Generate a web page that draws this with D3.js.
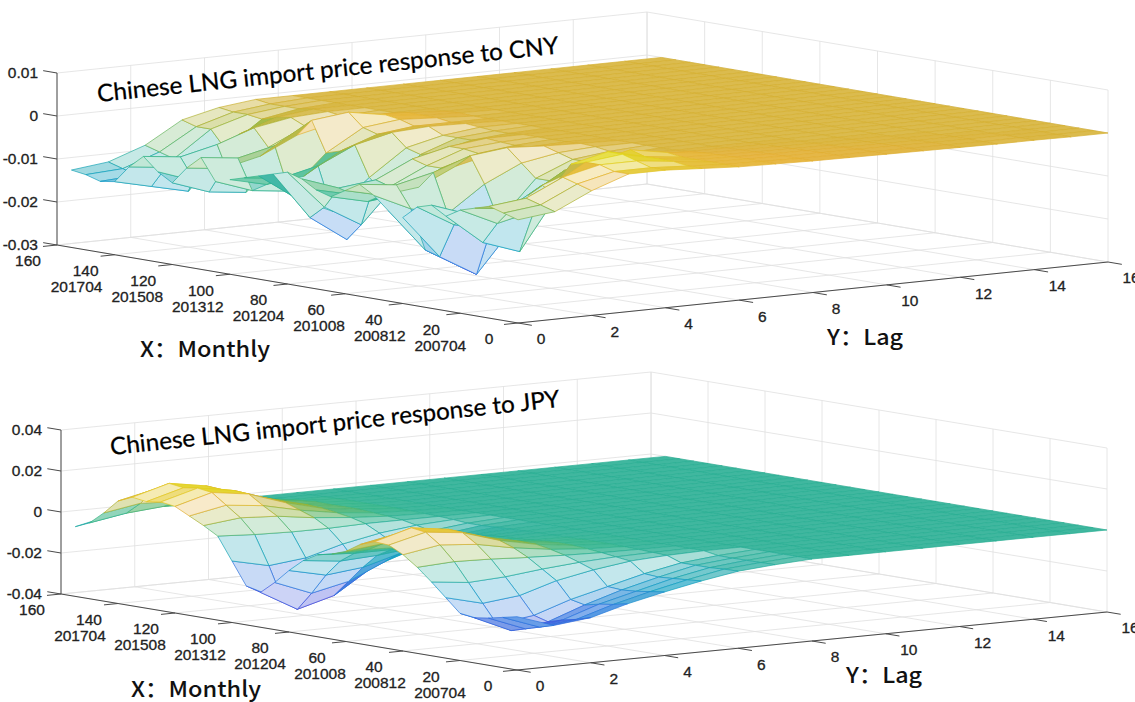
<!DOCTYPE html>
<html>
<head>
<meta charset="utf-8">
<script src="https://cdn.jsdelivr.net/npm/d3@7"></script>
<style>
  body { margin: 0; background: #fff; }
  text { font-family: 'Liberation Sans', Arial, sans-serif; }
</style>
</head>
<body>
<svg id="chart" width="1135" height="702"></svg>
<script>
// month index of each mesh column, and lags of each mesh row
var months = [0, 5, 10, 15, 20, 25, 30, 35, 40, 45, 50, 55, 60, 65, 70, 75,
  80, 85, 90, 95, 100, 105, 110, 115, 120, 125, 130, 135, 140, 145, 150, 155]
var lags = [0, 1, 2, 3, 4, 5, 6, 7, 8, 9, 10, 11, 12, 13, 14, 15, 16]

var xTicks = [0, 20, 40, 60, 80, 100, 120, 140, 160]
var dateTicks = [20, 40, 60, 80, 100, 120, 140]
var dateLabels = ['200704', '200812', '201008', '201204', '201312', '201508', '201704']
var yTicks = [0, 2, 4, 6, 8, 10, 12, 14, 16]
var cnyZTicks = [-0.03, -0.02, -0.01, 0, 0.01]
var cnyZLabels = ['-0.03', '-0.02', '-0.01', '0', '0.01']
var jpyZTicks = [-0.04, -0.02, 0, 0.02, 0.04]
var jpyZLabels = ['-0.04', '-0.02', '0', '0.02', '0.04']

// responses in units of 0.001, one row per month above, one value per lag
var cnyResp = [
  [-6, -5, -1, 2, 2, 1.5, 1, 0.8, 0.6, 0.5, 0.4, 0.3, 0.2, 0.1, 0.1, 0, 0],
  [-5, -4, 0, 2, 2, 1.5, 1, 0.8, 0.6, 0.5, 0.4, 0.3, 0.2, 0.1, 0.1, 0, 0],
  [-4, -3, 1, 3, 3, 2, 1, 0.8, 0.6, 0.5, 0.4, 0.3, 0.2, 0.1, 0.1, 0, 0],
  [-5, -6, -2, 3, 4, 2, 1, 0.7, 0.5, 0.4, 0.3, 0.2, 0.1, 0.1, 0, 0, 0],
  [-6, -10, -8, 2, 4, 2, 1, 0.6, 0.4, 0.3, 0.2, 0.1, 0.1, 0, 0, 0, 0],
  [-8, -15, -18, -6, 1, 3, 1.5, 0.5, 0.3, 0.2, 0.1, 0.1, 0, 0, 0, 0, 0],
  [-6, -9, -9, -4, -1, 0.5, 0.5, 0.3, 0.2, 0.1, 0, 0, 0, 0, 0, 0, 0],
  [-7, -12, -14, -7, -2, -0.5, 0, 0, 0, 0, 0, 0, 0, 0, 0, 0, 0],
  [-10, -20, -25, -15, -5, -1.5, -0.5, 0, 0, 0, 0, 0, 0, 0, 0, 0, 0],
  [-9, -19, -24, -14, -5, -1.5, -0.5, 0, 0, 0, 0, 0, 0, 0, 0, 0, 0],
  [-6, -10, -12, -6, -2, -0.5, 0, 0, 0, 0, 0, 0, 0, 0, 0, 0, 0],
  [-4, -5, -3, 0, 1, 0.5, 0.2, 0, 0, 0, 0, 0, 0, 0, 0, 0, 0],
  [-6, -8, -7, -3, -1, -0.3, 0, 0, 0, 0, 0, 0, 0, 0, 0, 0, 0],
  [-8, -10, -9, -4, -1.5, -0.5, 0, 0, 0, 0, 0, 0, 0, 0, 0, 0, 0],
  [-7, -9, -8, -4, -1, -0.3, 0, 0, 0, 0, 0, 0, 0, 0, 0, 0, 0],
  [-5, -8, -7, -3, -1, 0, 0, 0, 0, 0, 0, 0, 0, 0, 0, 0, 0],
  [-4, -13, -18, -9, -3, -1, -0.3, 0, 0, 0, 0, 0, 0, 0, 0, 0, 0],
  [-5, -16, -22, -12, -4, -1, -0.3, 0, 0, 0, 0, 0, 0, 0, 0, 0, 0],
  [-6, -12, -16, -9, -3, -1, 0, 0, 0, 0, 0, 0, 0, 0, 0, 0, 0],
  [-7, -8, -6, -2, 0, 0.5, 0.3, 0, 0, 0, 0, 0, 0, 0, 0, 0, 0],
  [-8, -10, -9, -4, -1, 0, 0, 0, 0, 0, 0, 0, 0, 0, 0, 0, 0],
  [-9, -12, -13, -5, 0, 1, 0.5, 0, 0, 0, 0, 0, 0, 0, 0, 0, 0],
  [-4, -5, -3, 2, 3, 1.5, 0.5, 0.2, 0, 0, 0, 0, 0, 0, 0, 0, 0],
  [-7, -8, -6, -2, 0, 1, 0.5, 0, 0, 0, 0, 0, 0, 0, 0, 0, 0],
  [-11, -14, -15, -7, -2, -0.5, 0, 0, 0, 0, 0, 0, 0, 0, 0, 0, 0],
  [-9, -12, -13, -6, -2, -0.5, 0, 0, 0, 0, 0, 0, 0, 0, 0, 0, 0],
  [-6, -7, -5, -2, -0.5, 0, 0, 0, 0, 0, 0, 0, 0, 0, 0, 0, 0],
  [-9, -10, -9, -4, -1, 0, 0, 0, 0, 0, 0, 0, 0, 0, 0, 0, 0],
  [-13, -15, -17, -8, -2, -0.5, 0, 0, 0, 0, 0, 0, 0, 0, 0, 0, 0],
  [-13.5, -13, -10, -4, -1.5, -0.5, 0, 0, 0, 0, 0, 0, 0, 0, 0, 0, 0],
  [-12.5, -12, -9, -4, -1.5, -0.5, 0, 0, 0, 0, 0, 0, 0, 0, 0, 0, 0],
  [-12, -11, -8, -3, -1, 0, 0, 0, 0, 0, 0, 0, 0, 0, 0, 0, 0]
]

var jpyResp = [
  [-14, -20, -18, -13, -9, -5.4, -2.4, -1, 0, 0, 0, 0, 0, 0, 0, 0, 0],
  [-15.5, -22, -20, -14.5, -10, -6, -2.6, -1.1, 0, 0, 0, 0, 0, 0, 0, 0, 0],
  [-17, -24, -21.5, -15.5, -11, -6.5, -3, -1.2, 0, 0, 0, 0, 0, 0, 0, 0, 0],
  [-18, -26, -23.5, -17, -11.5, -7, -3, -1.3, 0, 0, 0, 0, 0, 0, 0, 0, 0],
  [-17, -24, -21.5, -15.5, -11, -6.5, -3, -1.2, 0, 0, 0, 0, 0, 0, 0, 0, 0],
  [-10.5, -15, -13, -7.5, -4, -1.5, -0.5, 0, 0, 0, 0, 0, 0, 0, 0, 0, 0],
  [-4, -6, -5, -3, -1.5, -0.6, -0.2, 0, 0, 0, 0, 0, 0, 0, 0, 0, 0],
  [2, 3, 2.5, 1.5, 0.8, 0.3, 0.1, 0, 0, 0, 0, 0, 0, 0, 0, 0, 0],
  [7, 10, 8.5, 5, 2.5, 1, 0.3, 0, 0, 0, 0, 0, 0, 0, 0, 0, 0],
  [10.5, 15, 13, 7.5, 3.8, 1.5, 0.5, 0, 0, 0, 0, 0, 0, 0, 0, 0, 0],
  [11, 16, 13.5, 8, 4, 1.6, 0.5, 0, 0, 0, 0, 0, 0, 0, 0, 0, 0],
  [8.5, 12, 10, 6, 3, 1.2, 0.4, 0, 0, 0, 0, 0, 0, 0, 0, 0, 0],
  [4, 6, 5, 3, 1.5, 0.6, 0.2, 0, 0, 0, 0, 0, 0, 0, 0, 0, 0],
  [1.5, 2, 1.5, 1, 0.5, 0.2, 0.1, 0, 0, 0, 0, 0, 0, 0, 0, 0, 0],
  [0, -1, -1, -0.5, 0, 0, 0, 0, 0, 0, 0, 0, 0, 0, 0, 0, 0],
  [-4, -6, -5, -3, -1.5, -0.6, -0.2, 0, 0, 0, 0, 0, 0, 0, 0, 0, 0],
  [-10, -14, -12, -7, -3.5, -1.4, -0.4, 0, 0, 0, 0, 0, 0, 0, 0, 0, 0],
  [-17, -24, -20, -12, -6, -2.4, -0.7, 0, 0, 0, 0, 0, 0, 0, 0, 0, 0],
  [-23, -33, -28, -16.5, -8, -3.3, -1, 0, 0, 0, 0, 0, 0, 0, 0, 0, 0],
  [-21, -30, -25.5, -15, -7.5, -3, -1, 0, 0, 0, 0, 0, 0, 0, 0, 0, 0],
  [-10, -14, -12, -7, -3.5, -1.4, -0.4, 0, 0, 0, 0, 0, 0, 0, 0, 0, 0],
  [1, 0, -0.5, -0.5, 0, 0, 0, 0, 0, 0, 0, 0, 0, 0, 0, 0, 0],
  [5, 7, 6, 3.5, 1.8, 0.7, 0.2, 0, 0, 0, 0, 0, 0, 0, 0, 0, 0],
  [8.5, 12, 10, 6, 3, 1.2, 0.4, 0, 0, 0, 0, 0, 0, 0, 0, 0, 0],
  [12, 17, 14.5, 8.5, 4, 1.7, 0.5, 0, 0, 0, 0, 0, 0, 0, 0, 0, 0],
  [13, 18, 15, 9, 4.5, 1.8, 0.5, 0, 0, 0, 0, 0, 0, 0, 0, 0, 0],
  [12, 17, 14.5, 8.5, 4, 1.7, 0.5, 0, 0, 0, 0, 0, 0, 0, 0, 0, 0],
  [13, 18, 15, 9, 4.5, 1.8, 0.5, 0, 0, 0, 0, 0, 0, 0, 0, 0, 0],
  [10, 14, 12, 7, 3.5, 1.4, 0.4, 0, 0, 0, 0, 0, 0, 0, 0, 0, 0],
  [3, 6, 5, 3, 1.5, 0.6, 0.2, 0, 0, 0, 0, 0, 0, 0, 0, 0, 0],
  [-3, 0, 1.5, 1, 0.5, 0, 0, 0, 0, 0, 0, 0, 0, 0, 0, 0, 0],
  [-6, -2, 1, 1, 0.5, 0, 0, 0, 0, 0, 0, 0, 0, 0, 0, 0, 0]
]

// parula colormap
var parulaStops = ['#3e26a8', '#4852f4', '#2d87f7', '#12b1d6', '#37c897', '#abc739', '#fec338', '#f9fb15']
var parula = d3.scaleLinear()
  .domain(d3.range(8).map(function(i) { return i / 7 }))
  .range(parulaStops)
  .interpolate(d3.interpolateRgb)
  .clamp(true)

var svg = d3.select('#chart')
svg.append('rect').attr('width', 1135).attr('height', 702).attr('fill', '#fff')

function drawPanel(p) {
  var g = svg.append('g')
  var xs = d3.scaleLinear().domain([0, 160]).range([0, 1])
  var ys = d3.scaleLinear().domain([0, 16]).range([0, 1])
  var zs = d3.scaleLinear().domain([p.zMin, p.zMax]).range([0, 1])
  var cs = d3.scaleLinear().domain(p.colorDomain).range(p.colorRange).clamp(true)

  function proj(x, y, z) {
    var u = xs(x), v = ys(y), w = zs(z)
    return [
      p.origin[0] + u * p.xVec[0] + v * p.yVec[0],
      p.origin[1] + u * p.xVec[1] + v * p.yVec[1] - w * p.zLen
    ]
  }
  function seg(a, b, stroke, width) {
    g.append('line')
      .attr('x1', a[0]).attr('y1', a[1])
      .attr('x2', b[0]).attr('y2', b[1])
      .attr('stroke', stroke)
      .attr('stroke-width', width)
  }

  // grid on floor and the two back walls
  var grid = '#e0e0e0'
  xTicks.forEach(function(t) {
    seg(proj(t, 0, p.zMin), proj(t, 16, p.zMin), grid, 0.8)
    seg(proj(t, 16, p.zMin), proj(t, 16, p.zMax), grid, 0.8)
  })
  yTicks.forEach(function(t) {
    seg(proj(0, t, p.zMin), proj(160, t, p.zMin), grid, 0.8)
    seg(proj(160, t, p.zMin), proj(160, t, p.zMax), grid, 0.8)
  })
  p.zTicks.forEach(function(t) {
    seg(proj(160, 0, t), proj(160, 16, t), grid, 0.8)
    seg(proj(0, 16, t), proj(160, 16, t), grid, 0.8)
  })

  // axis lines and ticks
  var ax = '#4a4a4a'
  seg(proj(0, 0, p.zMin), proj(160, 0, p.zMin), ax, 1)
  seg(proj(0, 0, p.zMin), proj(0, 16, p.zMin), ax, 1)
  seg(proj(160, 0, p.zMin), proj(160, 0, p.zMax), ax, 1)
  xTicks.forEach(function(t) { seg(proj(t, 0, p.zMin), proj(t, -0.38, p.zMin), ax, 1) })
  yTicks.forEach(function(t) { seg(proj(0, t, p.zMin), proj(-4.8, t, p.zMin), ax, 1) })
  p.zTicks.forEach(function(t) { seg(proj(160, 0, t), proj(164.8, 0, t), ax, 1) })

  // mesh cells, painted back to front
  var d = [-p.yVec[0] * p.zLen, p.xVec[0] * p.zLen, p.xVec[0] * p.yVec[1] - p.yVec[0] * p.xVec[1]]
  var cells = []
  for (var i = 0; i < months.length - 1; i++) {
    for (var j = 0; j < lags.length - 1; j++) {
      var corners = [[i, j], [i + 1, j], [i + 1, j + 1], [i, j + 1]].map(function(c) {
        return { x: months[c[0]], y: lags[c[1]], z: p.resp[c[0]][c[1]] / 1000 }
      })
      var cx = d3.mean(corners, function(c) { return xs(c.x) })
      var cy = d3.mean(corners, function(c) { return ys(c.y) })
      var cz = d3.mean(corners, function(c) { return zs(c.z) })
      var pts = corners.map(function(c) { return proj(c.x, c.y, c.z) })
      var area = Math.abs(d3.polygonArea(pts))
      var col = d3.rgb(parula(cs(d3.mean(corners, function(c) { return c.z })))).darker(0.3)
      var tint = Math.max(0.26, Math.min(0.9, 125 / Math.max(area, 1)))
      cells.push({
        pts: pts,
        depth: cx * d[0] + cy * d[1] + cz * d[2],
        stroke: col + '',
        fill: d3.interpolateRgb('#ffffff', col)(tint)
      })
    }
  }
  cells.sort(function(a, b) { return a.depth - b.depth })
  g.append('g').selectAll('path')
    .data(cells)
    .enter()
    .append('path')
    .attr('d', function(c) { return 'M' + c.pts.join('L') + 'Z' })
    .attr('fill', function(c) { return c.fill })
    .attr('stroke', function(c) { return c.stroke })
    .attr('stroke-width', 0.7)
    .attr('stroke-linejoin', 'round')

  // tick labels
  var lab = g.append('g')
    .attr('fill', '#222').attr('stroke', '#222').attr('stroke-width', 0.3)
    .style('font-size', '15.5px')
  xTicks.forEach(function(t) {
    var q = proj(t, 0, p.zMin)
    lab.append('text').attr('x', q[0] - 29).attr('y', q[1] + 16).attr('dy', '0.35em')
      .attr('text-anchor', 'middle').text(t)
  })
  dateTicks.forEach(function(t, k) {
    var q = proj(t, 0, p.zMin)
    lab.append('text').attr('x', q[0] - 20 - (t - 20) * 0.15).attr('y', q[1] + 32).attr('dy', '0.35em')
      .attr('text-anchor', 'middle').text(dateLabels[k])
  })
  yTicks.forEach(function(t) {
    var q = proj(0, t, p.zMin)
    lab.append('text').attr('x', q[0] + 23).attr('y', q[1] + 16).attr('dy', '0.35em')
      .attr('text-anchor', 'middle').text(t)
  })
  p.zTicks.forEach(function(t, k) {
    var q = proj(160, 0, t)
    lab.append('text').attr('x', q[0] - 19).attr('y', q[1]).attr('dy', '0.35em')
      .attr('text-anchor', 'end').text(p.zLabels[k])
  })

  // title and axis names
  g.append('text')
    .attr('transform', 'translate(' + p.titlePos + ') rotate(' + p.titleRot + ')')
    .attr('textLength', p.titleLen)
    .attr('lengthAdjust', 'spacingAndGlyphs')
    .style('font-family', 'Lato, "Open Sans", sans-serif')
    .style('font-size', '24px')
    .attr('fill', '#000').attr('stroke', '#000').attr('stroke-width', 0.25)
    .text(p.title)
  g.append('text')
    .attr('x', p.xNamePos[0]).attr('y', p.xNamePos[1])
    .attr('textLength', 130).attr('lengthAdjust', 'spacingAndGlyphs')
    .style('font-family', '"Noto Sans CJK SC", sans-serif')
    .style('font-size', '22px').style('font-weight', 500)
    .attr('fill', '#111')
    .text('X：Monthly')
  g.append('text')
    .attr('x', p.yNamePos[0]).attr('y', p.yNamePos[1])
    .attr('textLength', 76).attr('lengthAdjust', 'spacingAndGlyphs')
    .style('font-family', '"Noto Sans CJK SC", sans-serif')
    .style('font-size', '22px').style('font-weight', 500)
    .attr('fill', '#111')
    .text('Y：Lag')
}

drawPanel({
  resp: cnyResp,
  zTicks: cnyZTicks, zLabels: cnyZLabels,
  zMin: -0.03, zMax: 0.01,
  origin: [518, 323], xVec: [-461, -78], yVec: [590, -61], zLen: 172,
  colorDomain: [-0.025, 0, 0.004], colorRange: [0.05, 0.83, 1],
  title: 'Chinese LNG import price response to CNY',
  titlePos: [98, 102], titleRot: -6, titleLen: 464,
  xNamePos: [140, 357], yNamePos: [827, 345]
})

drawPanel({
  resp: jpyResp,
  zTicks: jpyZTicks, zLabels: jpyZLabels,
  zMin: -0.04, zMax: 0.04,
  origin: [517, 670], xVec: [-456, -76], yVec: [590, -58], zLen: 164,
  colorDomain: [-0.033, 0, 0.018], colorRange: [0.05, 0.54, 1],
  title: 'Chinese LNG import price response to JPY',
  titlePos: [111, 455], titleRot: -6.1, titleLen: 452,
  xNamePos: [131, 697], yNamePos: [846, 683]
})
</script>
</body>
</html>
